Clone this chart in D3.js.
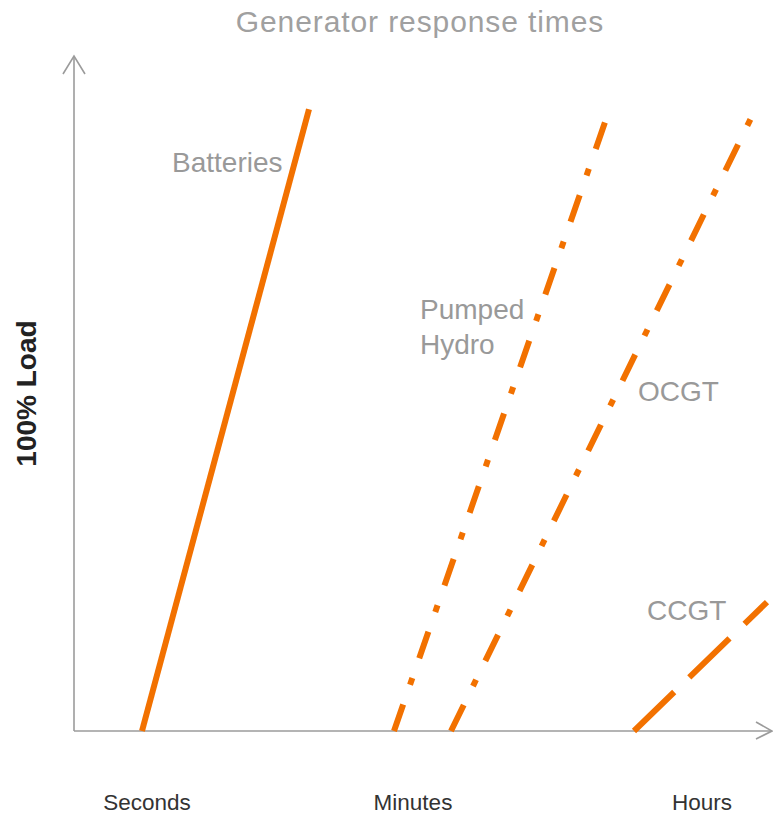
<!DOCTYPE html>
<html>
<head>
<meta charset="utf-8">
<script src="https://cdn.jsdelivr.net/npm/d3@7"></script>
<style>
  html, body { margin: 0; padding: 0; background: #fff; }
  svg { display: block; font-family: "Liberation Sans", Arial, Helvetica, sans-serif; }
</style>
</head>
<body>
<svg id="chart" width="773" height="814"></svg>
<script>
// Response ramps: each generator goes from zero to near full load over time
const generators = ["Batteries", "Pumped Hydro", "OCGT", "CCGT"];
const startTime = [68, 320, 377, 560];   // time units where output starts rising
const endTime = [235, 535, 678, 693];    // time units at the end of the drawn ramp
const endLoad = [92.1, 91.9, 91.1, 19.1]; // % of load reached at the end of the ramp
const dashPatterns = ["none", "28,21,7,21", "29,21,7,21", "56,21"];

// Time-scale labels along the horizontal axis
const timeLabels = ["Seconds", "Minutes", "Hours"];
const timeLabelPos = [73, 339, 628];

// Label placement for each ramp, in data units
const labelLines = [["Batteries"], ["Pumped", "Hydro"], ["OCGT"], ["CCGT"]];
const labelTime = [98, 346, 564, 573];
const labelLoad = [82.8, 61.0, 48.9, 16.4];

const svg = d3.select("#chart");
const orange = "#f27100";
const axisGrey = "#9b9b9b";
const textGrey = "#999999";

const x = d3.scaleLinear().domain([0, 700]).range([74, 774]);
const y = d3.scaleLinear().domain([0, 100]).range([731, 56]);

// Title
svg.append("text")
  .attr("x", 420).attr("y", 32)
  .attr("text-anchor", "middle")
  .attr("font-size", 30)
  .attr("letter-spacing", 0.9)
  .attr("fill", "#a0a0a0")
  .text("Generator response times");

// Axes with open arrowheads
const axes = svg.append("g").attr("stroke", axisGrey).attr("stroke-width", 1.6).attr("fill", "none");
axes.append("line").attr("x1", x(0)).attr("y1", y(0)).attr("x2", x(0)).attr("y2", y(100));
axes.append("polyline").attr("points", [[x(0) - 11, y(100) + 18], [x(0), y(100)], [x(0) + 11, y(100) + 18]].join(" "));
axes.append("line").attr("x1", x(0)).attr("y1", y(0)).attr("x2", x(698)).attr("y2", y(0));
axes.append("polyline").attr("points", [[x(698) - 16, y(0) - 9], [x(698), y(0)], [x(698) - 16, y(0) + 8]].join(" "));

// Y axis title
svg.append("text")
  .attr("transform", `translate(36,${y(50)}) rotate(-90)`)
  .attr("text-anchor", "middle")
  .attr("font-size", 28)
  .attr("font-weight", "bold")
  .attr("fill", "#222")
  .text("100% Load");

// Time-scale labels
svg.append("g").selectAll("text")
  .data(timeLabels)
  .join("text")
  .attr("x", (d, i) => x(timeLabelPos[i]))
  .attr("y", 810)
  .attr("text-anchor", "middle")
  .attr("font-size", 22.5)
  .attr("fill", "#333")
  .text(d => d);

// Ramps
const line = d3.line().x(d => x(d[0])).y(d => y(d[1]));
svg.append("g").selectAll("path")
  .data(generators)
  .join("path")
  .attr("d", (d, i) => line([[startTime[i], 0], [endTime[i], endLoad[i]]]))
  .attr("fill", "none")
  .attr("stroke", orange)
  .attr("stroke-width", 6)
  .attr("stroke-linecap", "butt")
  .attr("stroke-dasharray", (d, i) => dashPatterns[i]);

// Ramp labels
const labels = svg.append("g").selectAll("text")
  .data(generators)
  .join("text")
  .attr("x", (d, i) => x(labelTime[i]))
  .attr("y", (d, i) => y(labelLoad[i]))
  .attr("font-size", 28)
  .attr("fill", textGrey);
labels.selectAll("tspan")
  .data((d, i) => labelLines[i])
  .join("tspan")
  .attr("x", function () { return this.parentNode.getAttribute("x"); })
  .attr("dy", (d, j) => j === 0 ? 0 : 35)
  .text(d => d);
</script>
</body>
</html>
